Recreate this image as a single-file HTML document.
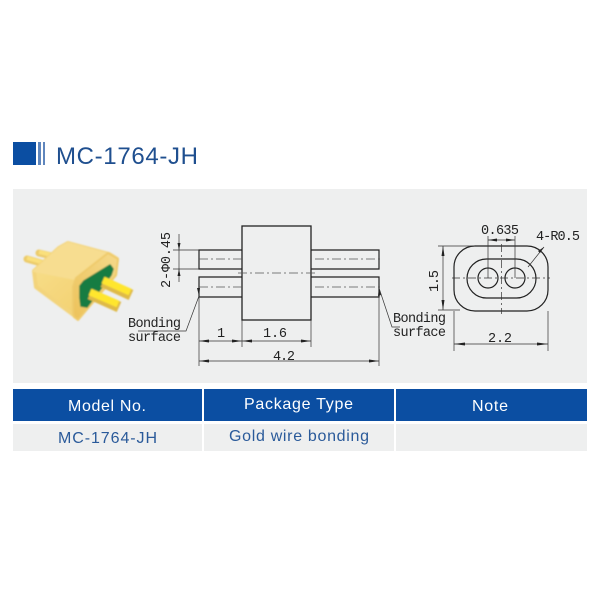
<!DOCTYPE html>
<html><head><meta charset="utf-8"><style>
html,body{margin:0;padding:0;background:#fff}
svg{display:block}
.m{font-family:"Liberation Mono",monospace;font-size:13.5px;fill:#222}
</style></head><body>
<svg width="600" height="600" viewBox="0 0 600 600" xmlns="http://www.w3.org/2000/svg">
<defs>
<linearGradient id="g" x1="0" y1="0" x2="1" y2="1"><stop offset="0" stop-color="#f8e08e"/><stop offset="1" stop-color="#f1cc68"/></linearGradient>
<linearGradient id="r" x1="1" y1="0" x2="0" y2="1"><stop offset="0" stop-color="#f5d98a"/><stop offset="1" stop-color="#ecc25a"/></linearGradient>
<filter id="b" x="-10%" y="-10%" width="120%" height="120%"><feGaussianBlur stdDeviation=".7"/></filter>
</defs>
<rect width="600" height="600" fill="#fff"/>
<rect x="13" y="142" width="23" height="23" fill="#0b4ea2"/>
<rect x="38" y="142" width="3" height="23" fill="#5f86bd"/>
<rect x="43" y="142" width="2" height="23" fill="#5f86bd"/>
<text x="56" y="164" font-family="Liberation Sans, sans-serif" font-size="24" fill="#1f4f8f" textLength="142">MC-1764-JH</text>
<rect x="13" y="189" width="574" height="194" fill="#eeefef"/>

<!-- connector -->
<g filter="url(#b)">
<line x1="39" y1="253" x2="60" y2="258" stroke="#eccb6a" stroke-width="7" stroke-linecap="round"/>
<line x1="39" y1="252" x2="60" y2="257" stroke="#fae07c" stroke-width="4"/>
<line x1="27" y1="259" x2="48" y2="265" stroke="#eccb6a" stroke-width="7" stroke-linecap="round"/>
<line x1="27" y1="258" x2="48" y2="264" stroke="#fae07c" stroke-width="4"/>
<path d="M59 248L68 243L109 254L117 259L115 275L78 318L75 316L36 287L34 271Z" fill="url(#g)" stroke="#f3d47c" stroke-width="4" stroke-linejoin="round"/>
<path d="M59 248L68 243L108 254L75 279L34 271Z" fill="#f7dd90" stroke="#f7dd90" stroke-width="2" stroke-linejoin="round"/>
<path d="M108 253L118 259L116 275L78 320L74 317L73 313L73 287L76 278Z" fill="url(#r)" stroke="#efcb6c" stroke-width="2" stroke-linejoin="round"/>
<path d="M110 265L113 269L111 275L87 307L81 306L80 298L80 286L84 281Z" fill="#157c42" stroke="#157c42" stroke-width="1.500" stroke-linejoin="round"/>
<line x1="103" y1="282" x2="131" y2="295" stroke="#dfba46" stroke-width="11"/>
<line x1="103" y1="280" x2="130" y2="292" stroke="#ffe62e" stroke-width="7"/>
<line x1="90" y1="294" x2="119" y2="307" stroke="#dfba46" stroke-width="11"/>
<line x1="90" y1="292" x2="118" y2="304" stroke="#ffe62e" stroke-width="7"/>
</g>

<!-- side view -->
<g fill="none" stroke="#222" stroke-width="1.1">
<rect x="242" y="226" width="69" height="94" stroke-width="1.3"/>
<path d="M242 250H199V269H242M311 250H379V269H311M242 277H199V297H242M311 277H379V297H311" stroke-width="1.2"/>
<g stroke-width=".7" stroke="#555" stroke-dasharray="9 3 2 3">
<path d="M199 259H242M315 259H383M199 287H242M315 287H383M238 273H315"/>
</g>
<g stroke-width=".7" stroke="#333">
<path d="M173 250H199M173 269H199M179 234V282"/>
<path d="M199 297V366M379 297V366M242 320V347M311 320V347"/>
<path d="M199 341H311M199 361H379"/>
<path d="M199 296L186 331H138M379 288L392 327H400"/>
</g>
</g>
<g fill="#222">
<path d="M179 250l-1.500-7h3zM179 269l-1.500 7h3zM199 341l10-1.500v3zM242 341l-10-1.500v3zM242 341l10-1.500v3zM311 341l-10-1.500v3zM199 361l10-1.500v3zM379 361l-10-1.500v3zM199 296l1-8-3 0zM379 288l-1 8 3-1z"/>
</g>
<text class="m" transform="translate(170 288) rotate(-90)" textLength="56">2-Φ0.45</text>
<text x="128" y="327" class="m" textLength="53">Bonding</text>
<text x="128" y="341" class="m" textLength="53">surface</text>
<text x="217" y="337" class="m">1</text>
<text x="263" y="337" class="m" textLength="24">1.6</text>
<text x="273" y="360" class="m" textLength="22">4.2</text>
<text x="393" y="322" class="m" textLength="53">Bonding</text>
<text x="393" y="336" class="m" textLength="53">surface</text>

<!-- end view -->
<g fill="none" stroke="#222" stroke-width="1.2">
<rect x="454" y="246" width="94" height="65" rx="21" ry="21"/>
<rect x="467" y="259" width="69" height="39" rx="19.500" ry="19.500"/>
<circle cx="488" cy="278" r="10"/>
<circle cx="515" cy="278" r="10"/>
<g stroke-width=".7" stroke="#333">
<path d="M438 246H475M438 310H460M443 246V310M454 311V351M548 311V351M454 344H548M488 236V278M515 236V278M488 240H515M528 267L544 247"/>
<path d="M452 278H550M501.500 244V314" stroke-dasharray="8 3 2 3"/>
</g>
</g>
<g fill="#222">
<path d="M443 246l-1.500 10h3zM443 310l-1.500-10h3zM454 344l11-1.500v3zM548 344l-11-1.500v3zM488 240l9-1.500v3zM515 240l-9-1.500v3zM544 247l-6 4 2 2z"/>
</g>
<text x="481" y="234" class="m" textLength="38">0.635</text>
<text x="536" y="240" class="m" textLength="44">4-R0.5</text>
<text class="m" transform="translate(438 292) rotate(-90)" textLength="22">1.5</text>
<text x="488" y="342" class="m" textLength="24">2.2</text>

<!-- table -->
<rect x="13" y="389" width="189" height="32" fill="#0b4ea2"/>
<rect x="204" y="389" width="190" height="32" fill="#0b4ea2"/>
<rect x="396" y="389" width="191" height="32" fill="#0b4ea2"/>
<rect x="13" y="424" width="189" height="27" fill="#eeefef"/>
<rect x="204" y="424" width="190" height="27" fill="#eeefef"/>
<rect x="396" y="424" width="191" height="27" fill="#eeefef"/>
<g font-family="Liberation Sans, sans-serif" font-size="16" fill="#fff">
<text x="68" y="411" textLength="78">Model No.</text>
<text x="244" y="409" textLength="109">Package Type</text>
<text x="472" y="411" textLength="36">Note</text>
</g>
<g font-family="Liberation Sans, sans-serif" font-size="16" fill="#2a5a9a">
<text x="58" y="443" textLength="99">MC-1764-JH</text>
<text x="229" y="441" textLength="140">Gold wire bonding</text>
</g>
</svg>
</body></html>
